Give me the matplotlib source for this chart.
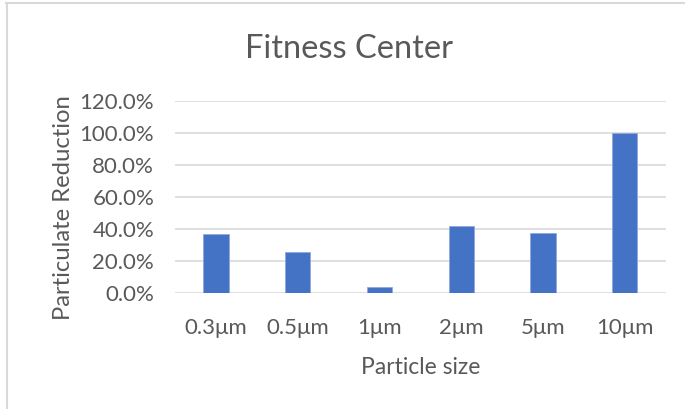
import matplotlib.pyplot as plt
from matplotlib.lines import Line2D
from matplotlib.ticker import FuncFormatter

plt.rcParams['font.family'] = ['Lato', 'DejaVu Sans']

sizes = ['0.3μm', '0.5μm', '1μm', '2μm', '5μm', '10μm']
reduction = [36.5, 25.5, 3.5, 41.5, 37.0, 100.0]
y_ticks = [0, 20, 40, 60, 80, 100, 120]

text_col = '#595959'
W, H = 685, 409

fig = plt.figure(figsize=(W / 100, H / 100), dpi=100)
ax = fig.add_axes([0.2555, 0.2844, 0.7163, 0.4694])

x = range(len(sizes))
ax.bar(x, reduction, width=0.31, color='#4472C4', edgecolor='#8FAADC',
       linewidth=0.6, zorder=3)

ax.set_xlim(-0.5, len(sizes) - 0.5)
ax.set_ylim(0, 120)
ax.set_yticks(y_ticks)
ax.yaxis.set_major_formatter(FuncFormatter(lambda v, p: f'{v:.1f}%'))
ax.set_xticks(list(x))
ax.set_xticklabels(sizes)
ax.grid(axis='y', color='#d9d9d9', linewidth=1.2, zorder=0)
for s in ax.spines.values():
    s.set_visible(False)
ax.tick_params(length=0, labelsize=16, colors=text_col)
ax.tick_params(axis='y', pad=15)
ax.tick_params(axis='x', pad=18)

# title sits over the whole chart area, not just the plot
fig.text(349 / W, 1 - 58 / H, 'Fitness Center', fontsize=23.5, color=text_col,
         ha='center', va='baseline')
ax.set_xlabel('Particle size', fontsize=16.5, color=text_col, labelpad=14)
ax.set_ylabel('Particulate Reduction', fontsize=17.2, color=text_col)
ax.yaxis.set_label_coords(-0.206, 0.441)

# chart area frame (left and top edges)
fig.add_artist(Line2D([7 / W, 7 / W], [0, 1 - 2.5 / H], transform=fig.transFigure,
                      color='#d9d9d9', linewidth=1.5))
fig.add_artist(Line2D([6 / W, 1], [1 - 2.5 / H, 1 - 2.5 / H], transform=fig.transFigure,
                      color='#d9d9d9', linewidth=1.5))

fig.savefig('out.png', dpi=100)
